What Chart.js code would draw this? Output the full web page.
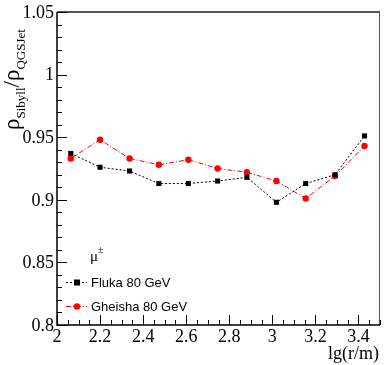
<!DOCTYPE html>
<html>
<head>
<meta charset="utf-8">
<script src="https://cdn.jsdelivr.net/npm/chart.js@4/dist/chart.umd.min.js"></script>
<style>
  html, body { margin: 0; padding: 0; background: #fff; }
  #box { width: 384px; height: 365px; }
</style>
</head>
<body>
<div id="box"><canvas id="ratio-chart" width="384" height="365"></canvas></div>
<script>
// Centros dos bins em lg(r/m)
var binsX = [2.064, 2.200, 2.337, 2.473, 2.610, 2.746, 2.882, 3.019, 3.155, 3.291, 3.428]

// Razão rho_Sibyll / rho_QGSJet para muons
var flukaRatio = [0.937, 0.926, 0.923, 0.913, 0.913, 0.915, 0.918, 0.898, 0.913, 0.920, 0.951]
var gheishaRatio = [0.933, 0.948, 0.933, 0.928, 0.932, 0.925, 0.922, 0.915, 0.901, 0.919, 0.943]

// Ticks dos eixos
var xTicks = [2, 2.2, 2.4, 2.6, 2.8, 3, 3.2, 3.4]
var xTickLabels = ['2', '2.2', '2.4', '2.6', '2.8', '3', '3.2', '3.4']
var yTicks = [0.8, 0.85, 0.9, 0.95, 1, 1.05]
var yTickLabels = ['0.8', '0.85', '0.9', '0.95', '1', '1.05']

var colorFluka = "#000000"
var colorGheisha = "#ff0000"

var serif = "'Liberation Serif', 'DejaVu Serif', serif"
var sans = "'Liberation Sans', Arial, sans-serif"

function toPoints(xs, ys) {
  return xs.map((x, i) => ({ x: x, y: ys[i] }))
}

// Moldura, ticks internos, rótulos e legenda no estilo ROOT
var rootFrame = {
  id: 'rootFrame',
  afterDraw(chart) {
    var ctx = chart.ctx
    var a = chart.chartArea
    var sx = chart.scales.x
    var sy = chart.scales.y
    ctx.save()

    // moldura
    ctx.strokeStyle = '#555'
    ctx.lineWidth = 2
    ctx.beginPath()
    ctx.moveTo(a.left, a.top)
    ctx.lineTo(a.right, a.top)
    ctx.stroke()
    ctx.lineWidth = 1
    ctx.beginPath()
    ctx.moveTo(a.right - 0.5, a.top)
    ctx.lineTo(a.right - 0.5, a.bottom)
    ctx.stroke()
    ctx.strokeStyle = '#000'
    ctx.lineWidth = 1.5
    ctx.beginPath()
    ctx.moveTo(a.left, a.top)
    ctx.lineTo(a.left, a.bottom)
    ctx.lineTo(a.right, a.bottom)
    ctx.stroke()

    // ticks do eixo x (principais 0.2, menores 0.05)
    ctx.lineWidth = 1
    ctx.beginPath()
    for (var k = 0; k <= 30; k++) {
      var v = 2 + k * 0.05
      var px = Math.round(sx.getPixelForValue(v)) + 0.5
      var len = (k % 4 == 0) ? 10 : 5
      ctx.moveTo(px, a.bottom)
      ctx.lineTo(px, a.bottom - len)
    }
    // ticks do eixo y (principais 0.05, menores 0.01)
    for (var j = 0; j <= 25; j++) {
      var w = 0.8 + j * 0.01
      var py = Math.round(sy.getPixelForValue(w)) + 0.5
      var leny = (j % 5 == 0) ? 10 : 5
      ctx.moveTo(a.left, py)
      ctx.lineTo(a.left + leny, py)
    }
    ctx.stroke()

    // rótulos dos ticks
    ctx.fillStyle = '#000'
    ctx.font = '18px ' + serif
    ctx.textAlign = 'center'
    ctx.textBaseline = 'alphabetic'
    xTicks.forEach((v, i) => {
      ctx.fillText(xTickLabels[i], sx.getPixelForValue(v), a.bottom + 17)
    })
    ctx.textAlign = 'right'
    ctx.textBaseline = 'middle'
    yTicks.forEach((v, i) => {
      ctx.fillText(yTickLabels[i], a.left - 3, sy.getPixelForValue(v) + 1)
    })

    // título do eixo x
    ctx.textAlign = 'right'
    ctx.textBaseline = 'alphabetic'
    ctx.fillText('lg(r/m)', a.right - 1, 359)

    // título do eixo y, girado
    ctx.save()
    ctx.translate(19, 130)
    ctx.rotate(-Math.PI / 2)
    ctx.textAlign = 'left'
    var x0 = 0
    ctx.font = '23px ' + serif
    ctx.fillText('ρ', x0, 0)
    x0 += ctx.measureText('ρ').width
    ctx.font = '13px ' + serif
    ctx.fillText('Sibyll', x0, 6)
    x0 += ctx.measureText('Sibyll').width
    ctx.font = '23px ' + serif
    ctx.fillText('/', x0, 0)
    x0 += ctx.measureText('/').width
    ctx.fillText('ρ', x0, 0)
    x0 += ctx.measureText('ρ').width
    ctx.font = '13px ' + serif
    ctx.fillText('QGSJet', x0, 6)
    ctx.restore()

    // legenda
    ctx.textAlign = 'left'
    ctx.font = '15px ' + serif
    ctx.fillText('μ', 90, 261)
    ctx.font = '10px ' + serif
    ctx.fillText('±', 98, 253)

    ctx.font = '13px ' + sans
    ctx.fillText('Fluka 80 GeV', 91, 287)
    ctx.fillText('Gheisha 80 GeV', 91, 311)

    ctx.lineWidth = 1
    ctx.strokeStyle = colorFluka
    ctx.setLineDash([2, 2])
    ctx.beginPath()
    ctx.moveTo(66, 282.5)
    ctx.lineTo(87, 282.5)
    ctx.stroke()
    ctx.strokeStyle = colorGheisha
    ctx.setLineDash([5, 2, 1, 2])
    ctx.beginPath()
    ctx.moveTo(66, 306.5)
    ctx.lineTo(87, 306.5)
    ctx.stroke()
    ctx.setLineDash([])
    ctx.fillStyle = colorFluka
    ctx.fillRect(74, 279.5, 6, 6)
    ctx.fillStyle = colorGheisha
    ctx.beginPath()
    ctx.arc(77, 306.5, 3.2, 0, Math.PI * 2)
    ctx.fill()

    ctx.restore()
  }
}

window.onload = function () {
  var el = document.getElementById('ratio-chart')

  new Chart(el, {
    type: 'scatter',
    data: {
      datasets: [{
        label: 'Fluka 80 GeV',
        data: toPoints(binsX, flukaRatio),
        showLine: true,
        borderColor: colorFluka,
        backgroundColor: colorFluka,
        borderWidth: 1,
        borderDash: [2, 2],
        pointStyle: 'rect',
        pointRadius: 3.6,
        pointBorderWidth: 0,
        tension: 0
      }, {
        label: 'Gheisha 80 GeV',
        data: toPoints(binsX, gheishaRatio),
        showLine: true,
        borderColor: colorGheisha,
        backgroundColor: colorGheisha,
        borderWidth: 1,
        borderDash: [5, 2, 1, 2],
        pointStyle: 'circle',
        pointRadius: 3.2,
        pointBorderWidth: 0,
        tension: 0
      }]
    },
    options: {
      responsive: false,
      animation: false,
      layout: { padding: { left: 57, top: 12, right: 1, bottom: 40 } },
      plugins: {
        legend: { display: false },
        tooltip: { enabled: false }
      },
      scales: {
        x: { type: 'linear', min: 2, max: 3.5, display: false },
        y: { type: 'linear', min: 0.8, max: 1.05, display: false }
      }
    },
    plugins: [rootFrame]
  })
}
</script>
</body>
</html>
